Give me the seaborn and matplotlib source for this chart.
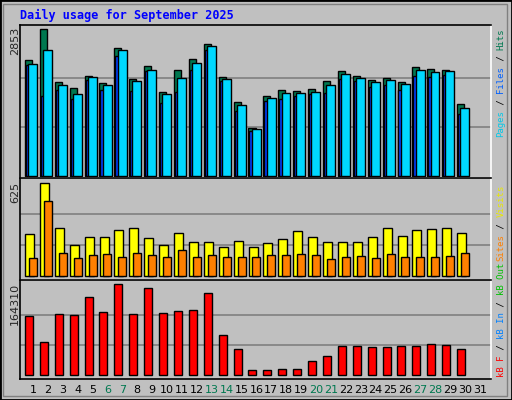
import numpy as np
import pandas as pd
import seaborn as sns
import matplotlib
matplotlib.use("Agg")
import matplotlib.pyplot as plt
from matplotlib.patches import Rectangle

days = list(range(1, 32))
weekend = [6, 7, 13, 14, 20, 21, 27, 28]

hits = [2250, 2853, 1822, 1705, 1939, 1803, 2483, 1880, 2133, 1627, 2055, 2269, 2568, 1919, 1433,
        927, 1550, 1666, 1647, 1686, 1841, 2036, 1939, 1861, 1900, 1822, 2114, 2075, 2055, 1394, 0]
files = [2172, 2444, 1764, 1589, 1919, 1764, 2444, 1841, 2055, 1589, 1900, 2192, 2522, 1880, 1375,
         908, 1511, 1608, 1608, 1627, 1764, 1978, 1900, 1822, 1861, 1783, 2055, 2017, 2036, 1316, 0]
pages = [2153, 1550, 1666, 1491, 1861, 1666, 2328, 1647, 2036, 1414, 1627, 2055, 2444, 1841, 1258,
         869, 1452, 1491, 1550, 1589, 1608, 1880, 1841, 1725, 1764, 1666, 1939, 1919, 1958, 1200, 0]
visits = [285, 625, 326, 211, 265, 265, 312, 326, 258, 211, 292, 231, 231, 197, 238,
          197, 224, 251, 306, 265, 231, 231, 231, 265, 326, 272, 312, 319, 326, 292, 0]
sites = [122, 503, 156, 122, 143, 149, 129, 156, 143, 129, 177, 129, 143, 129, 129,
         129, 143, 143, 149, 143, 115, 129, 136, 122, 149, 129, 129, 129, 136, 156, 0]
kbytes = [106537, 59588, 110148, 108342, 140845, 113759, 164310, 110148, 157096, 111953, 115565,
          117371, 148067, 72228, 46948, 9029, 9029, 10834, 10834, 25280, 34308, 52365, 52365,
          50560, 50560, 52365, 52365, 55977, 54171, 46948, 0]

W, H = 512, 400
BG = "#C0C0C0"
sns.set_style("white")
plt.rcParams["font.family"] = ["DejaVu Sans"]

fig = plt.figure(figsize=(W / 100, H / 100), dpi=100, facecolor=BG)
fig.patches.append(Rectangle((0, 0), 1, 1, transform=fig.transFigure, fill=False,
                             edgecolor="black", linewidth=2))
fig.patches.append(Rectangle((3 / W, 4 / H), 1 - 8 / W, 1 - 8 / H, transform=fig.transFigure,
                             fill=False, edgecolor="#808080", linewidth=1))


def panel(top, bottom, ymin, ymax, grid):
    ax = fig.add_axes([20 / W, 1 - bottom / H, 471 / W, (bottom - top) / H])
    ax.set_facecolor(BG)
    for g in grid:
        ax.axhline(g, color="#808080", linewidth=1.2, zorder=0)
    ax.set_ylim(ymin, ymax)
    return ax


def bars(ax, vals, offset, width, color):
    df = pd.DataFrame({"x": [d + offset for d in days], "y": vals})
    df = df[df["y"] > 0]
    sns.barplot(data=df, x="x", y="y", ax=ax, native_scale=True, width=width,
                color=color, edgecolor="black", linewidth=1, saturation=1, zorder=2)


def finish(ax, bottom_color):
    ax.set_xlim(0.13, 31.74)
    ax.set_xlabel("")
    ax.set_ylabel("")
    ax.set_yticks([])
    for s in ["left", "top"]:
        ax.spines[s].set_color("black")
    ax.spines["right"].set_color("white")
    ax.spines["bottom"].set_color(bottom_color)
    for s in ax.spines.values():
        s.set_linewidth(1.2)


ax1 = panel(25, 178, -39, 2931, [951, 1902])
bars(ax1, hits, -0.3, 0.47, "#007850")
bars(ax1, pages, -0.17, 0.6, "#0040FF")
bars(ax1, files, -0.02, 0.6, "#00D8FF")
finish(ax1, "white")
ax1.set_xticks([])

ax2 = panel(178, 280, -25, 661, [208, 417])
bars(ax2, visits, -0.23, 0.6, "#FFFF00")
bars(ax2, sites, 0.0, 0.54, "#FF8000")
finish(ax2, "white")
ax2.set_xticks([])

ax3 = panel(280, 379, -6680, 172074, [54770, 109540])
bars(ax3, kbytes, -0.27, 0.54, "#FF0000")
finish(ax3, "black")
ax3.set_xticks(days)
ax3.set_xticklabels([str(d) for d in days], fontsize=8)
ax3.tick_params(axis="x", length=0, pad=4)
for lbl, d in zip(ax3.get_xticklabels(), days):
    lbl.set_color("#007850" if d in weekend else "black")

fig.text(20 / W, 1 - 15 / H, "Daily usage for September 2025", color="#0000FF",
         family="DejaVu Sans Mono", weight="bold", fontsize=8.5, va="center")

for txt, ytop in [("2853", 27), ("625", 182), ("164310", 283)]:
    fig.text(15 / W, 1 - ytop / H, txt, rotation=90, ha="center", va="top", fontsize=8)


def side_label(segments, ybottom):
    y = ybottom
    ch = 5.44
    for txt, col in segments:
        fig.text(501 / W, 1 - y / H, txt, rotation=90, ha="center", va="bottom", color=col,
                 family="DejaVu Sans Mono", fontsize=6.5)
        y -= ch * len(txt)


side_label([("Pages", "#00C8E8"), (" / ", "black"), ("Files", "#0060FF"),
            (" / ", "black"), ("Hits", "#007850")], 137)
side_label([("Sites", "#FF8000"), (" / ", "black"), ("Visits", "#E8E800")], 261)
side_label([("kB F", "#FF0000"), (" / ", "black"), ("kB In", "#0080FF"),
            (" / ", "black"), ("kB Out", "#00C000")], 377)

fig.savefig("out.png", dpi=100, facecolor=BG)
